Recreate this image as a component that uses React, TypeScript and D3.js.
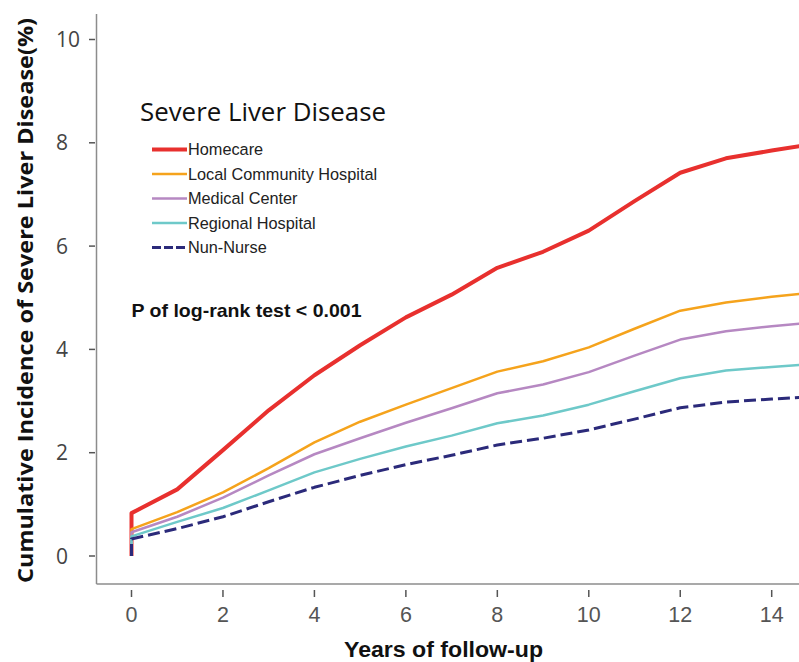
import React from "react";
import * as d3 from "d3";

const years = [0, 1, 2, 3, 4, 5, 6, 7, 8, 9, 10, 11, 12, 13, 14, 15];
const homecare = [0.83, 1.29, 2.05, 2.82, 3.5, 4.08, 4.62, 5.06, 5.58, 5.89, 6.3, 6.87, 7.42, 7.7, 7.85, 7.99];
const localCommunity = [0.52, 0.85, 1.23, 1.7, 2.2, 2.6, 2.93, 3.25, 3.57, 3.77, 4.04, 4.4, 4.75, 4.91, 5.02, 5.11];
const medicalCenter = [0.46, 0.76, 1.13, 1.56, 1.97, 2.28, 2.58, 2.86, 3.15, 3.32, 3.56, 3.88, 4.19, 4.35, 4.45, 4.53];
const regionalHospital = [0.38, 0.66, 0.93, 1.27, 1.62, 1.88, 2.12, 2.33, 2.57, 2.72, 2.93, 3.19, 3.44, 3.59, 3.66, 3.72];
const nunNurse = [0.33, 0.53, 0.76, 1.05, 1.33, 1.56, 1.77, 1.95, 2.15, 2.28, 2.44, 2.65, 2.87, 2.98, 3.04, 3.09];

const seriesNames = ["Homecare", "Local Community Hospital", "Medical Center", "Regional Hospital", "Nun-Nurse"];
const seriesValues = [homecare, localCommunity, medicalCenter, regionalHospital, nunNurse];
const seriesColors = ["#e8302e", "#f5a31c", "#b688c2", "#6ec9c9", "#2b2a7a"];
const seriesWidths = [4, 2.5, 2.5, 2.5, 3];
const seriesDash = [null, null, null, null, "12,5"];

const xTicks = [0, 2, 4, 6, 8, 10, 12, 14];
const yTicks = [0, 2, 4, 6, 8, 10];

const W = 799;
const H = 662;

export default function App() {
  const x = d3.scaleLinear().domain([0, 14]).range([131.5, 771.7]);
  const y = d3.scaleLinear().domain([0, 10]).range([556, 39.5]);
  const line = d3
    .line<[number, number]>()
    .x((d) => x(d[0]))
    .y((d) => y(d[1]));

  const axisColor = "#8c8c8c";
  const axisX = 96.5;
  const axisY = 584;

  return (
    <svg
      width={W}
      height={H}
      viewBox={`0 0 ${W} ${H}`}
      style={{ position: "absolute", left: 0, top: 0, background: "#fff" }}
    >
      <rect x={0} y={0} width={W} height={H} fill="#fff" />
      <defs>
        <clipPath id="plotClip">
          <rect x={axisX} y={0} width={W - axisX} height={axisY} />
        </clipPath>
      </defs>

      {/* axes */}
      <line x1={axisX} x2={axisX} y1={14} y2={axisY} stroke={axisColor} strokeWidth={1.5} />
      <line x1={axisX} x2={W} y1={axisY} y2={axisY} stroke={axisColor} strokeWidth={1.5} />

      {yTicks.map((t) => (
        <g key={"y" + t}>
          <line x1={89} x2={95} y1={y(t)} y2={y(t)} stroke="#555" strokeWidth={1.5} />
          <text
            x={56}
            y={y(t)}
            dy="0.36em"
            fontFamily="'Open Sans', sans-serif"
            fontSize={21}
            fill="#444"
          >
            {t}
          </text>
        </g>
      ))}

      {xTicks.map((t) => (
        <g key={"x" + t}>
          <line x1={x(t)} x2={x(t)} y1={590} y2={597} stroke="#555" strokeWidth={1.5} />
          <text
            x={x(t)}
            y={621.5}
            textAnchor="middle"
            fontFamily="'Liberation Sans', Arial, sans-serif"
            fontSize={21.5}
            fill="#555"
          >
            {t}
          </text>
        </g>
      ))}

      {/* axis titles */}
      <text
        x={443.5}
        y={656.5}
        textAnchor="middle"
        fontFamily="'Liberation Sans', Arial, sans-serif"
        fontWeight="bold"
        fontSize={22}
        fill="#111"
        textLength={199}
        lengthAdjust="spacingAndGlyphs"
      >
        Years of follow-up
      </text>
      <text
        transform="translate(33,300.5) rotate(-90)"
        textAnchor="middle"
        fontFamily="'Open Sans', sans-serif"
        fontWeight="bold"
        fontSize={20.5}
        fill="#111"
        textLength={565}
        lengthAdjust="spacingAndGlyphs"
      >
        Cumulative Incidence of Severe Liver Disease(%)
      </text>

      {/* series */}
      <g clipPath="url(#plotClip)">
        {seriesValues.map((vals, i) => {
          const pts: [number, number][] = [[0, 0], ...years.map((yr, j) => [yr, vals[j]] as [number, number])];
          return (
            <path
              key={seriesNames[i]}
              d={line(pts) || ""}
              fill="none"
              stroke={seriesColors[i]}
              strokeWidth={seriesWidths[i]}
              strokeDasharray={seriesDash[i] || undefined}
              strokeLinejoin="round"
            />
          );
        })}
      </g>

      {/* legend */}
      <text
        x={140}
        y={120.5}
        fontFamily="'Open Sans', sans-serif"
        fontSize={25}
        fill="#111"
        textLength={246}
        lengthAdjust="spacingAndGlyphs"
      >
        Severe Liver Disease
      </text>
      {seriesNames.map((name, i) => {
        const by = 155 + i * 24.5;
        return (
          <g key={"lg" + name}>
            <line
              x1={152}
              x2={187}
              y1={by - 5.5}
              y2={by - 5.5}
              stroke={seriesColors[i]}
              strokeWidth={seriesWidths[i]}
              strokeDasharray={seriesDash[i] ? "9,3" : undefined}
            />
            <text
              x={188}
              y={by}
              fontFamily="'Liberation Sans', Arial, sans-serif"
              fontSize={16.3}
              fill="#222"
            >
              {name}
            </text>
          </g>
        );
      })}

      <text
        x={131.5}
        y={317.3}
        fontFamily="'Liberation Sans', Arial, sans-serif"
        fontWeight="bold"
        fontSize={19}
        fill="#111"
        textLength={230}
        lengthAdjust="spacingAndGlyphs"
      >
        P of log-rank test &lt; 0.001
      </text>
    </svg>
  );
}
